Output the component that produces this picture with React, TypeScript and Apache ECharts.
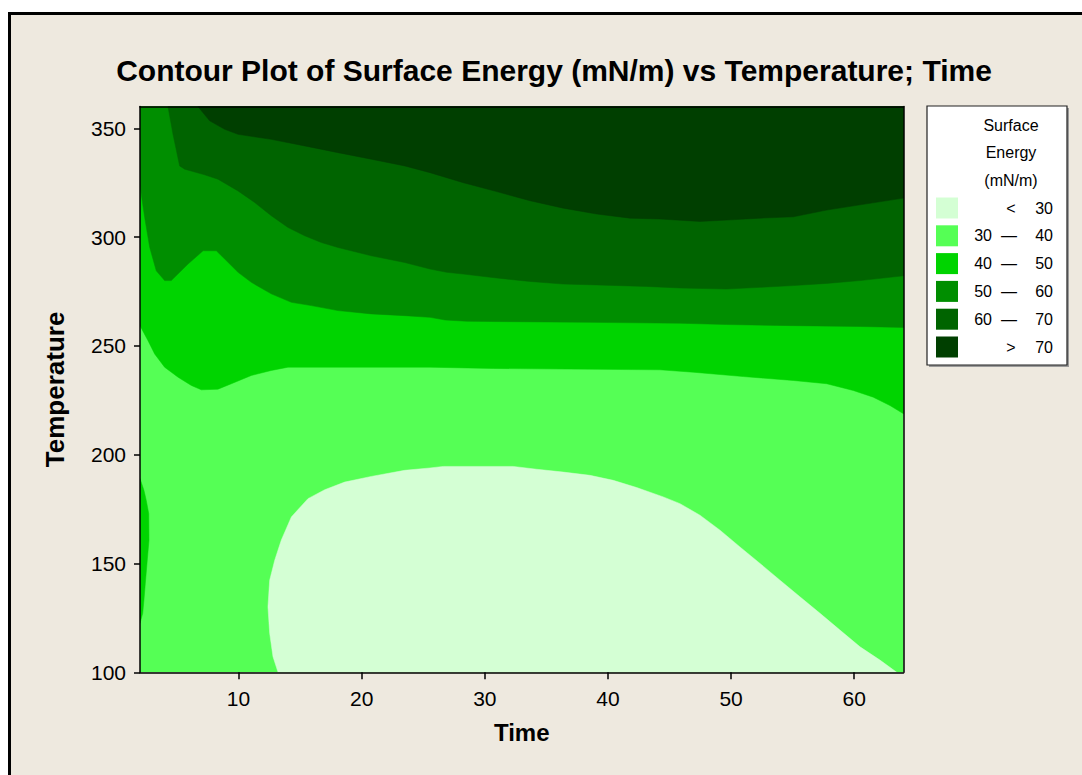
import React, { useEffect, useRef } from 'react';
import * as echarts from 'echarts';

const TITLE = 'Contour Plot of Surface Energy (mN/m) vs Temperature; Time';
const X_NAME = 'Time';
const Y_NAME = 'Temperature';
const TIME_MIN = 2;
const TIME_MAX = 64;
const TEMP_MIN = 100;
const TEMP_MAX = 360;
const TIME_TICKS = [10, 20, 30, 40, 50, 60];
const TEMP_TICKS = [100, 150, 200, 250, 300, 350];

const LEGEND_TITLE = ['Surface', 'Energy', '(mN/m)'];
const LEVEL_LOW = ['', '30', '40', '50', '60', ''];
const LEVEL_SEP = ['<', '—', '—', '—', '—', '>'];
const LEVEL_HIGH = ['30', '40', '50', '60', '70', '70'];
const LEVEL_COLORS = ['#D4FFD4', '#55FF55', '#00D400', '#008E00', '#006400', '#003F00'];

// contour boundaries: [Time, Temperature]
const B40: number[][] = [
  [2, 259.3], [2.65, 252.4], [3.19, 246.3], [4.0, 240.2], [5.09, 235.6], [6.17, 231.8],
  [6.98, 229.8], [8.33, 230.1], [9.42, 232.6], [11.04, 236.4], [12.66, 238.7], [14.02, 240.2],
  [25.55, 240.2], [30.7, 239.6], [44.22, 239.0], [46.93, 237.9], [50.99, 235.9], [55.05, 234.1],
  [57.76, 232.6], [59.92, 229.5], [61.55, 226.4], [62.9, 222.6], [64, 218.8],
];
const B50: number[][] = [
  [2, 323.5], [2.38, 309], [2.79, 295.2], [3.32, 284.5], [4.0, 280], [4.54, 280], [5.9, 287.6],
  [7.12, 293.7], [8.2, 293.7], [8.88, 289.9], [9.96, 283.8], [11.04, 279.2], [12.66, 273.9],
  [14.29, 270], [15.91, 268.5], [18.08, 266.2], [20.78, 264.7], [23.49, 263.9], [25.55, 263.1],
  [26.77, 261.9], [28.53, 261.3], [38.54, 260.8], [45.85, 260.4], [49.64, 259.8], [55.05, 259.3],
  [60.47, 258.9], [64, 258.5],
];
const B60: number[][] = [
  [4.27, 360], [4.68, 347.2], [5.22, 332.7], [5.63, 331.2], [7.25, 328.6], [8.33, 326.6],
  [9.96, 321.2], [11.31, 315.9], [12.66, 309.8], [14.02, 304.4], [15.37, 300.6], [16.72, 297.5],
  [18.08, 295.2], [20.78, 291.4], [23.49, 288.3], [25.55, 285.3], [26.9, 283.8], [28.25, 283.0],
  [30.96, 281.2], [33.67, 279.6], [36.37, 278.4], [39.08, 278.0], [43.14, 277.3], [45.85, 276.6],
  [49.64, 276.1], [52.35, 276.9], [55.05, 277.7], [57.76, 278.7], [60.47, 280], [64, 282.2],
];
const B70: number[][] = [
  [6.7, 360], [7.66, 353.4], [8.88, 349.5], [9.96, 347.2], [12.66, 344.9], [15.37, 341.9],
  [18.08, 338.8], [20.78, 335.8], [23.5, 332.7], [25.55, 329.6], [28.25, 325.0], [30.96, 320.9],
  [33.67, 316.7], [36.37, 313.3], [39.08, 310.6], [41.79, 308.7], [44.22, 308.3], [47.47, 307.2],
  [49.64, 307.8], [52.35, 308.7], [55.05, 309.3], [57.76, 312.4], [60.47, 314.8], [64, 317.9],
];
const B30: number[][] = [
  [13.21, 100], [12.8, 107.2], [12.53, 117.9], [12.39, 130.1], [12.53, 142.3], [12.94, 151.5],
  [13.47, 160.7], [14.29, 171.4], [15.64, 179.8], [17.0, 183.9], [18.62, 187.4], [20.78, 190],
  [23.49, 192.8], [25.55, 193.9], [26.63, 194.6], [32.31, 194.6], [34.21, 193.3], [36.37, 192],
  [38.54, 190.5], [40.43, 188.2], [42.33, 184.9], [44.49, 180.6], [45.85, 177.5], [47.47, 172.2],
  [49.1, 165.3], [50.72, 157.6], [52.35, 150], [53.97, 142.3], [55.59, 134.7], [57.22, 127.1],
  [58.84, 119.4], [60.47, 111.7], [62.09, 105.6], [63.45, 100],
];
const SLIVER40: number[][] = [
  [2, 189], [2.32, 183.6], [2.51, 179], [2.71, 172.9], [2.73, 160.7], [2.59, 151.5],
  [2.43, 140.8], [2.32, 133.2], [2.22, 127.1], [2, 122.5],
];

const FONT = '"Liberation Sans", Arial, sans-serif';

const POLYS = [
  { pts: [...B40, [TIME_MAX, TEMP_MAX], [TIME_MIN, TEMP_MAX]], color: LEVEL_COLORS[2] },
  { pts: [...B50, [TIME_MAX, TEMP_MAX], [TIME_MIN, TEMP_MAX]], color: LEVEL_COLORS[3] },
  { pts: [...B60, [TIME_MAX, TEMP_MAX]], color: LEVEL_COLORS[4] },
  { pts: [...B70, [TIME_MAX, TEMP_MAX]], color: LEVEL_COLORS[5] },
  { pts: B30, color: LEVEL_COLORS[0] },
  { pts: SLIVER40, color: LEVEL_COLORS[2] },
];

function buildLegend(): any[] {
  const els: any[] = [];
  const bx = 927, by = 106, bw = 140, bh = 259;
  els.push({ type: 'rect', shape: { x: bx + 2, y: by + 2, width: bw, height: bh }, style: { fill: '#9a9a9a' } });
  els.push({ type: 'rect', shape: { x: bx, y: by, width: bw, height: bh }, style: { fill: '#ffffff', stroke: '#222', lineWidth: 1.2 } });
  const titleY = [125, 152, 180];
  LEGEND_TITLE.forEach((t, i) => {
    els.push({ type: 'text', x: 1011, y: titleY[i], style: { text: t, fontSize: 16, fontFamily: FONT, fill: '#000', align: 'center', verticalAlign: 'middle' } });
  });
  LEVEL_COLORS.forEach((c, i) => {
    const cy = 208 + i * 27.8;
    els.push({ type: 'rect', shape: { x: 936, y: cy - 10.5, width: 22, height: 21 }, style: { fill: c } });
    if (LEVEL_LOW[i]) {
      els.push({ type: 'text', x: 992, y: cy, style: { text: LEVEL_LOW[i], fontSize: 16, fontFamily: FONT, fill: '#000', align: 'right', verticalAlign: 'middle' } });
    }
    els.push({ type: 'text', x: LEVEL_LOW[i] ? 1009 : 1011, y: cy, style: { text: LEVEL_SEP[i], fontSize: 16, fontFamily: FONT, fill: '#000', align: 'center', verticalAlign: 'middle' } });
    els.push({ type: 'text', x: 1053, y: cy, style: { text: LEVEL_HIGH[i], fontSize: 16, fontFamily: FONT, fill: '#000', align: 'right', verticalAlign: 'middle' } });
  });
  return els;
}

export default function App() {
  const ref = useRef<HTMLDivElement>(null);
  useEffect(() => {
    if (!ref.current) return;
    const chart = echarts.init(ref.current, null, { renderer: 'svg' });
    const axisLine = { show: true, lineStyle: { color: '#000', width: 1.5 } };
    const option: any = {
      animation: false,
      backgroundColor: '#EEE9DF',
      graphic: [
        { type: 'rect', shape: { x: 0, y: 0, width: 1082, height: 12 }, style: { fill: '#ffffff' } },
        { type: 'rect', shape: { x: 0, y: 0, width: 8, height: 775 }, style: { fill: '#ffffff' } },
        { type: 'rect', shape: { x: 8, y: 12, width: 1074, height: 3 }, style: { fill: '#000' } },
        { type: 'rect', shape: { x: 8, y: 12, width: 3, height: 763 }, style: { fill: '#000' } },
        { type: 'text', x: 554, y: 70, style: { text: TITLE, fontSize: 30, fontWeight: 'bold', fontFamily: FONT, fill: '#000', align: 'center', verticalAlign: 'middle' } },
        ...buildLegend(),
      ],
      grid: {
        left: 140, top: 106.5, width: 763.5, height: 565.8,
        show: true, backgroundColor: LEVEL_COLORS[1], borderWidth: 0,
        containLabel: false, outerBoundsMode: 'none',
      },
      xAxis: [
        {
          type: 'value', min: TIME_MIN, max: TIME_MAX, position: 'bottom', z: 10,
          axisLine,
          axisTick: { show: true, length: 7, lineStyle: { color: '#000', width: 1.5 }, customValues: TIME_TICKS },
          axisLabel: { customValues: TIME_TICKS, fontSize: 21, color: '#000', margin: 16, fontFamily: FONT },
          splitLine: { show: false },
          name: X_NAME, nameLocation: 'middle', nameGap: 48,
          nameTextStyle: { fontSize: 24, fontWeight: 'bold', color: '#000', fontFamily: FONT },
        },
        {
          type: 'value', min: TIME_MIN, max: TIME_MAX, position: 'top', z: 10,
          axisLine, axisTick: { show: false }, axisLabel: { show: false }, splitLine: { show: false },
        },
      ],
      yAxis: [
        {
          type: 'value', min: TEMP_MIN, max: TEMP_MAX, position: 'left', z: 10,
          axisLine,
          axisTick: { show: true, length: 6, lineStyle: { color: '#000', width: 1.5 }, customValues: TEMP_TICKS },
          axisLabel: { customValues: TEMP_TICKS, fontSize: 21, color: '#000', margin: 14, fontFamily: FONT },
          splitLine: { show: false },
          name: Y_NAME, nameLocation: 'middle', nameGap: 72,
          nameTextStyle: { fontSize: 26, fontWeight: 'bold', color: '#000', fontFamily: FONT },
        },
        {
          type: 'value', min: TEMP_MIN, max: TEMP_MAX, position: 'right', z: 10,
          axisLine, axisTick: { show: false }, axisLabel: { show: false }, splitLine: { show: false },
        },
      ],
      series: [
        {
          type: 'custom',
          coordinateSystem: 'cartesian2d',
          xAxisIndex: 0, yAxisIndex: 0,
          clip: true,
          silent: true,
          data: POLYS.map((p) => p.pts[0]),
          renderItem: (params: any, api: any) => {
            const poly = POLYS[params.dataIndex];
            return {
              type: 'polygon',
              shape: { points: poly.pts.map((pt) => api.coord(pt)) },
              style: { fill: poly.color, stroke: poly.color, lineWidth: 0.5 },
            };
          },
        },
      ],
    };
    chart.setOption(option);
    return () => chart.dispose();
  }, []);
  return <div ref={ref} style={{ position: 'fixed', left: 0, top: 0, width: 1082, height: 775 }} />;
}
